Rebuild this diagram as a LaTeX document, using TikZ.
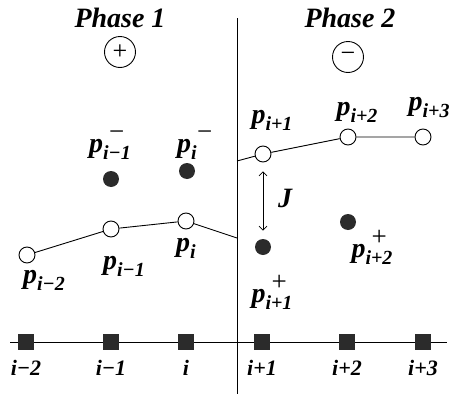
\documentclass[tikz,border=0pt]{standalone}
\usepackage{fontspec}
\setmainfont{Liberation Serif}
\definecolor{inkgray}{HTML}{2B2B2B}
\usetikzlibrary{arrows.meta}
\newcommand{\plbl}[2]{\textit{p}\makebox[0pt][l]{\raisebox{12pt}{\hspace{6pt}\fontsize{27}{27}\selectfont\mdseries\upshape #2}}\raisebox{-7pt}{\fontsize{20}{20}\selectfont #1}}

\begin{document}
\begin{tikzpicture}[x=1pt,y=-1pt,line width=0.9pt,
    open/.style={circle,draw,fill=white,minimum size=16pt,inner sep=0pt},
    filled/.style={circle,fill=inkgray,minimum size=16pt,inner sep=0pt},
    site/.style={rectangle,fill=inkgray,minimum size=16pt,inner sep=0pt},
    lbl/.style={font=\fontsize{28}{30}\selectfont\bfseries\itshape,inner sep=0pt},
    idx/.style={font=\fontsize{22}{24}\selectfont\bfseries\itshape,inner sep=0pt},
    sign/.style={circle,draw,minimum size=31pt,inner sep=0pt,font=\fontsize{26}{26}\selectfont}]
    \useasboundingbox (0,0) rectangle (451,394);
    % phase boundary and lattice
    \coordinate (top) at (237,18);
    \coordinate (bot) at (237,394);
    \draw (top) -- (bot);
    \coordinate (left) at (10,342);
    \coordinate (right) at (447,342);
    \draw (left) -- (right);
    \foreach \x/\n/\t in {26/1/i−2,111/2/i−1,186/3/i,262/4/i+1,347/5/i+2,423/6/i+3} {
        \node[site] (s\n) at (\x,342) {};
        \node[idx] (t\n) at (\x,368) {\t};
    }
    % phase headers
    \node[lbl] (ph1) at (120,18) {Phase 1};
    \node[lbl] (ph2) at (350,18) {Phase 2};
    \node[sign] (plus) at (120,52) {+};
    \node[sign] (minus) at (348,57) {−};
    % density profile
    \coordinate (jl) at (237,238);
    \coordinate (jr) at (237,161);
    \node[open] (o1) at (27,255) {};
    \node[open] (o2) at (111,229) {};
    \node[open] (o3) at (186,221) {};
    \node[open] (o4) at (263,154) {};
    \node[open] (o5) at (348,137) {};
    \node[open] (o6) at (423,137) {};
    \draw (o1) -- (o2) -- (o3) -- (jl);
    \draw (jr) -- (o4) -- (o5) -- (o6);
    \node[filled] (f1) at (111,179) {};
    \node[filled] (f2) at (187,171) {};
    \node[filled] (f3) at (263,247) {};
    \node[filled] (f4) at (348,222) {};
    \draw[{Straight Barb[length=4pt]}-{Straight Barb[length=4pt]},line width=0.7pt,
        shorten <=9pt,shorten >=8pt] (o4) -- (f3);
    \node[lbl] (jlbl) at (285,198) {J};
    % labels
    \node[lbl] (l1) at (44,280) {\plbl{i−2}{}};
    \node[lbl] (l2) at (124,266) {\plbl{i−1}{}};
    \node[lbl] (l3) at (186,248) {\plbl{i}{}};
    \node[lbl] (l4) at (110,145) {\plbl{i−1}{−}};
    \node[lbl] (l5) at (187,145) {\plbl{i}{−}};
    \node[lbl] (l6) at (272,120) {\plbl{i+1}{}};
    \node[lbl] (l7) at (357,112) {\plbl{i+2}{}};
    \node[lbl,anchor=east] (l8) at (450,107) {\plbl{i+3}{}};
    \node[lbl] (l9) at (272,292) {\plbl{i+1}{+}};
    \node[lbl] (l10) at (372,247) {\plbl{i+2}{+}};
\end{tikzpicture}
\end{document}
